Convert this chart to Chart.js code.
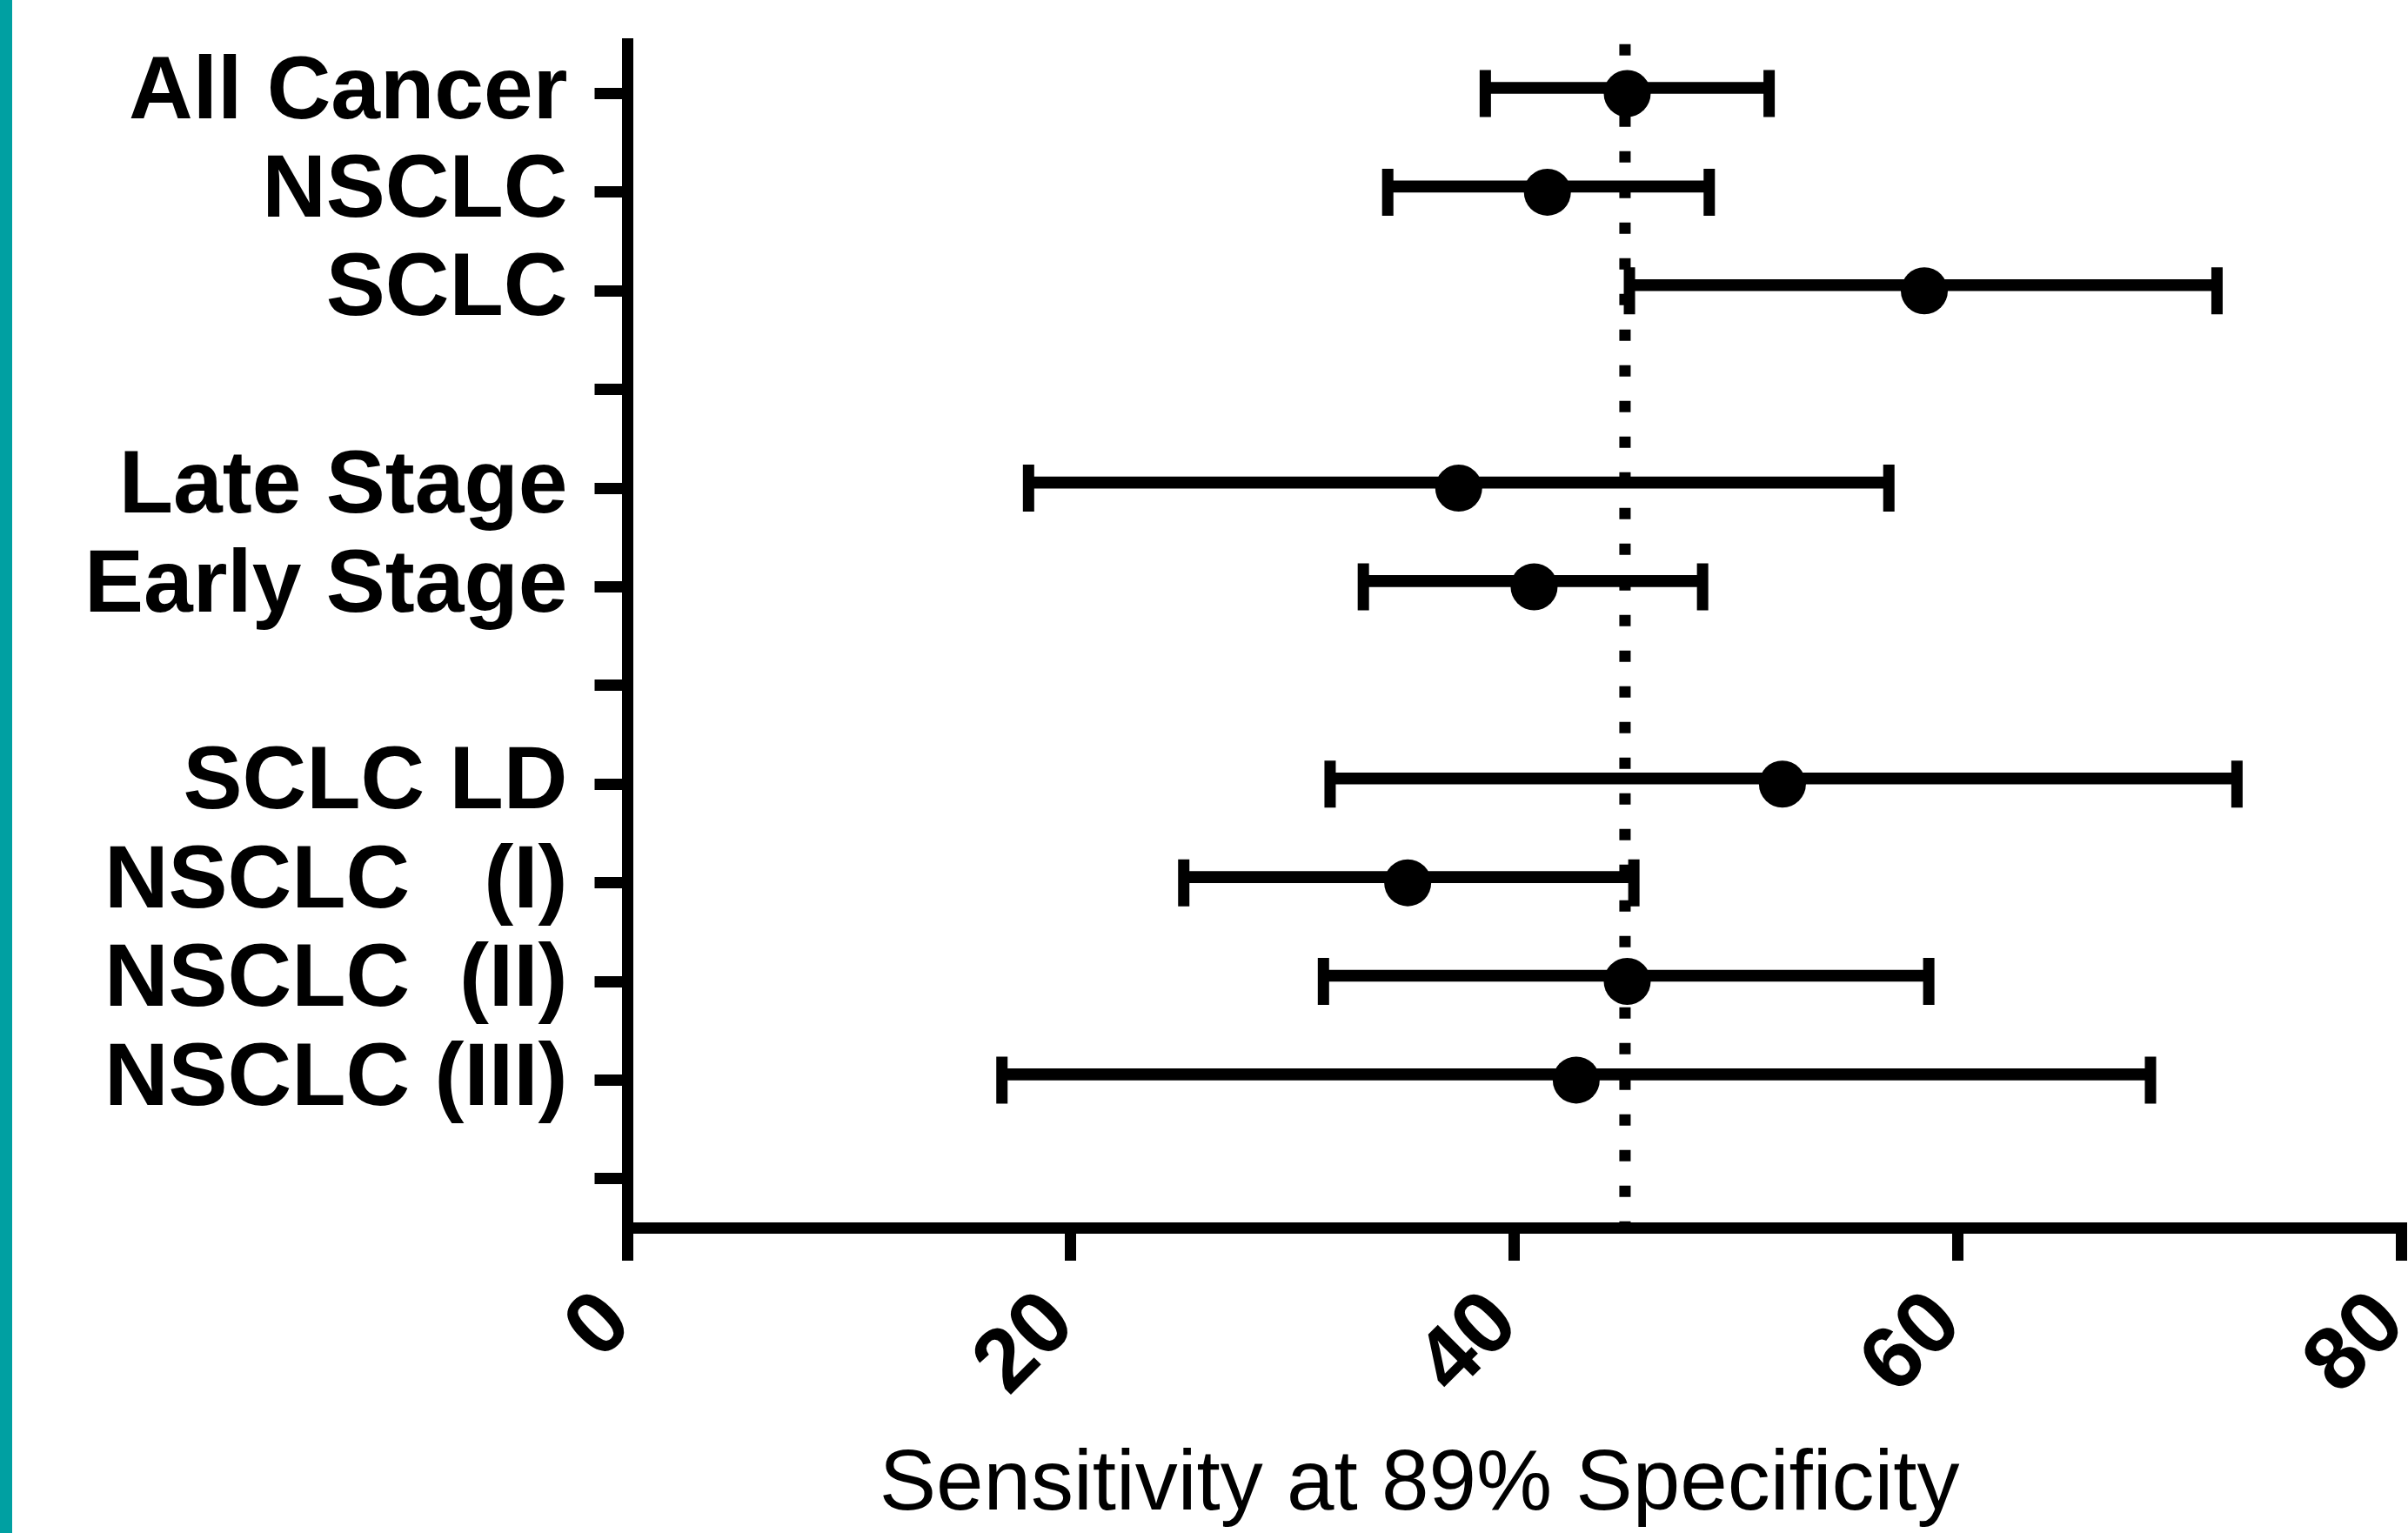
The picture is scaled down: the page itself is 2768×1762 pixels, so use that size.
<!DOCTYPE html>
<html>
<head>
<meta charset="utf-8">
<script src="https://cdn.jsdelivr.net/npm/chart.js@4/dist/chart.umd.min.js"></script>
<style>
  html, body { margin: 0; padding: 0; background: #ffffff; overflow: hidden; width: 2768px; height: 1762px; }
  #wrap { position: absolute; left: 0; top: 0; width: 2800px; height: 1762px; }
  #band { position: absolute; left: 0; top: 0; width: 14px; height: 1762px; background: #00a0a2; z-index: 2; }
</style>
</head>
<body>
<div id="wrap"><canvas id="c" width="2800" height="1762"></canvas></div>
<div id="band"></div>
<script>
// ---- data ----
const categories = ['All Cancer', 'NSCLC', 'SCLC', '', 'Late Stage', 'Early Stage', '', 'SCLC LD', 'NSCLC   (I)', 'NSCLC  (II)', 'NSCLC (III)', ''];
const pointValues = [45.1, 41.5, 58.5, null, 37.5, 40.9, null, 52.1, 35.2, 45.1, 42.8, null];
const lowerValues = [38.7, 34.3, 45.2, null, 18.1, 33.2, null, 31.7, 25.1, 31.4, 16.9, null];
const upperValues = [51.5, 48.8, 71.7, null, 56.9, 48.5, null, 72.6, 45.4, 58.7, 68.7, null];
const referenceValue = 45;
const xTickValues = [0, 20, 40, 60, 80];
const xTitle = 'Sensitivity at 89% Specificity';

// ---- build datasets from the arrays ----
const whiskers = lowerValues.map((lo, i) => (lo == null ? null : [lo, upperValues[i]]));

const FONT = "'Liberation Sans', Arial, Helvetica, sans-serif";

const markerBase = { type: 'line', indexAxis: 'y', showLine: false, fill: false, spanGaps: false };

new Chart(document.getElementById('c'), {
  type: 'bar',
  data: {
    labels: categories,
    datasets: [
      Object.assign({}, markerBase, {
        data: pointValues,
        pointRadius: 27, pointHoverRadius: 27, pointStyle: 'circle',
        pointBackgroundColor: '#000', pointBorderColor: '#000', pointBorderWidth: 0,
        backgroundColor: '#000', borderColor: '#000', order: 0
      }),
      Object.assign({}, markerBase, {
        data: lowerValues,
        pointStyle: 'line', pointRotation: 90, pointRadius: 27, pointHoverRadius: 27,
        pointBorderColor: '#000', pointBorderWidth: 13, borderColor: '#000', order: 1
      }),
      Object.assign({}, markerBase, {
        data: upperValues,
        pointStyle: 'line', pointRotation: 90, pointRadius: 27, pointHoverRadius: 27,
        pointBorderColor: '#000', pointBorderWidth: 13, borderColor: '#000', order: 1
      }),
      {
        type: 'bar', data: whiskers, indexAxis: 'y',
        backgroundColor: '#000', borderWidth: 0, barThickness: 13, order: 2
      },
      {
        type: 'line', yAxisID: 'yRef', indexAxis: 'y',
        data: [{ x: referenceValue, y: 0 }, { x: referenceValue, y: 1 }],
        borderColor: '#000', borderWidth: 13, borderDash: [13, 28], borderCapStyle: 'butt',
        pointRadius: 0, fill: false, order: 3, clip: false
      }
    ]
  },
  options: {
    indexAxis: 'y',
    responsive: false,
    animation: false,
    events: [],
    layout: { padding: { left: 0, top: 50.8, right: 31.5, bottom: 0 } },
    plugins: { legend: { display: false }, tooltip: { enabled: false }, title: { display: false } },
    scales: {
      x: {
        type: 'linear', position: 'bottom', min: 0, max: 80,
        afterBuildTicks: (s) => { s.ticks = xTickValues.map(v => ({ value: v })); },
        ticks: {
          stepSize: 20, autoSkip: false, minRotation: 45, maxRotation: 45, padding: 13, labelOffset: -11,
          color: '#000', font: { family: FONT, size: 102, weight: 'bold' }
        },
        grid: { drawOnChartArea: false, drawTicks: true, tickLength: 37.5, tickWidth: 13, tickColor: '#000', lineWidth: 13, color: '#000' },
        border: { display: true, width: 13, color: '#000' },
        title: {
          display: true, text: xTitle + '        ', color: '#000',
          font: { family: FONT, size: 98, weight: 'normal', lineHeight: 1.102 },
          padding: { top: 0, bottom: 0 }
        },
        afterFit: (s) => { s.height = 350.5; s.paddingLeft = 0; s.paddingRight = 0; }
      },
      y: {
        type: 'category', position: 'left', offset: true,
        ticks: { autoSkip: false, padding: 31, color: '#000', font: { family: FONT, size: 102, weight: 'bold' } },
        grid: { offset: false, drawOnChartArea: false, drawTicks: true, tickLength: 37.5, tickWidth: 13, tickColor: '#000', lineWidth: 13, color: '#000' },
        border: { display: true, width: 13, color: '#000' },
        afterFit: (s) => { s.width = 721; s.paddingTop = 0; s.paddingBottom = 0; }
      },
      yRef: {
        type: 'linear', display: false, min: 0, max: 1, reverse: true, offset: false,
        grid: { offset: false }, position: 'right'
      }
    }
  }
});
</script>
</body>
</html>
